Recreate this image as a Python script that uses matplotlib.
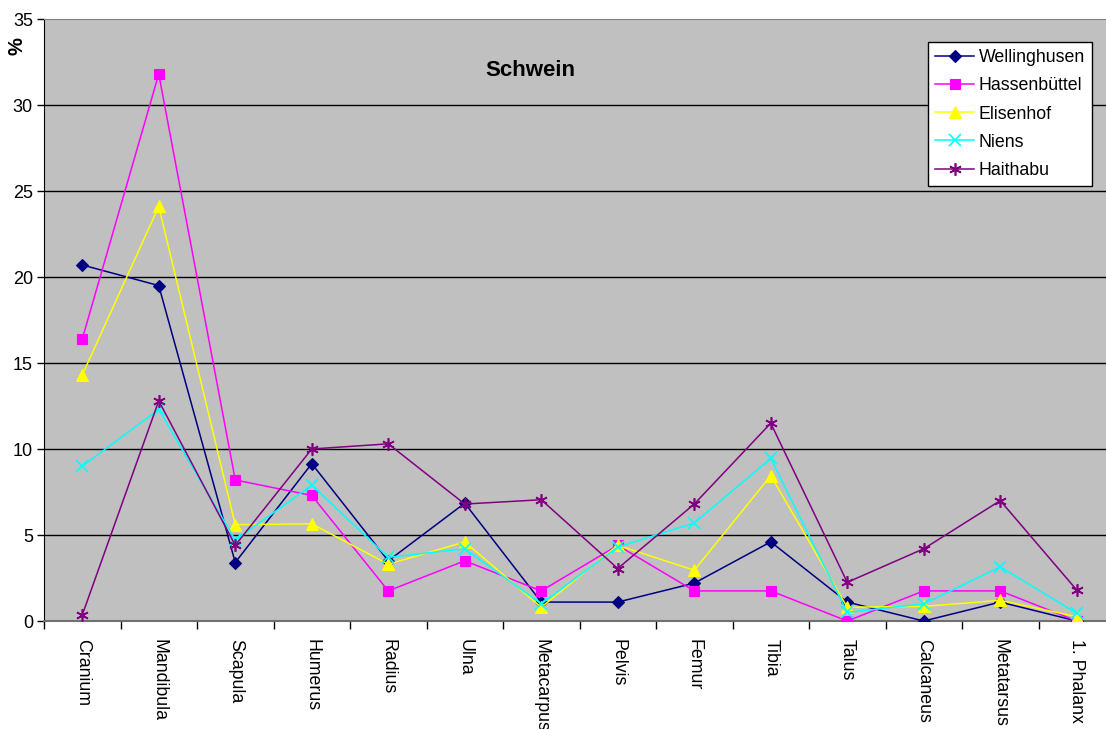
import matplotlib
matplotlib.use("Agg")
import matplotlib.pyplot as plt
import numpy as np

plt.rcParams['font.family'] = ['Liberation Sans', 'DejaVu Sans']

categories = ["Cranium", "Mandibula", "Scapula", "Humerus", "Radius", "Ulna",
              "Metacarpus", "Pelvis", "Femur", "Tibia", "Talus", "Calcaneus",
              "Metatarsus", "1. Phalanx"]
wellinghusen = [20.7, 19.5, 3.4, 9.15, 3.5, 6.85, 1.1, 1.1, 2.2, 4.6, 1.1, 0.0, 1.1, 0.0]
hassenbuettel = [16.4, 31.8, 8.2, 7.3, 1.75, 3.5, 1.75, 4.4, 1.75, 1.75, 0.0, 1.75, 1.75, 0.0]
elisenhof = [14.3, 24.1, 5.6, 5.65, 3.3, 4.6, 0.8, 4.4, 2.95, 8.45, 0.8, 0.85, 1.2, 0.25]
niens = [9.0, 12.3, 4.7, 7.9, 3.7, 4.2, 1.0, 4.3, 5.7, 9.45, 0.5, 1.0, 3.15, 0.45]
haithabu = [0.35, 12.8, 4.4, 10.0, 10.3, 6.8, 7.05, 3.05, 6.8, 11.5, 2.25, 4.2, 7.0, 1.8]
yticks = [0, 5, 10, 15, 20, 25, 30, 35]

fig = plt.figure(figsize=(11.06, 7.29), dpi=100)
ax = fig.add_axes([44/1106, 1-621/729, (1115-44)/1106, (621-19)/729])
ax.set_facecolor('#C0C0C0')

x = np.arange(len(categories))
series = [
    ("Wellinghusen", wellinghusen, '#000080', 'D', 6),
    ("Hassenbüttel", hassenbuettel, '#FF00FF', 's', 7),
    ("Elisenhof", elisenhof, '#FFFF00', '^', 8),
    ("Niens", niens, '#00FFFF', 'x', 8),
    ("Haithabu", haithabu, '#800080', (6, 2, 0), 9),
]
for name, vals, col, mk, ms in series:
    ax.plot(x, vals, color=col, lw=1.1, marker=mk, markersize=ms,
            markeredgewidth=1.2 if mk in ('x',) or isinstance(mk, tuple) else 0.8,
            markerfacecolor=col, markeredgecolor=col, label=name, zorder=3)

ax.set_xlim(-0.5, len(categories) - 0.5)
ax.set_ylim(0, 35)
ax.set_yticks(yticks)
ax.set_yticklabels([str(v) for v in yticks], fontsize=13)
for v in yticks[1:-1]:
    ax.axhline(v, color='black', lw=1.0, zorder=1)

ax.set_xticks(x)
ax.set_xticklabels(categories, rotation=-90, fontsize=12.8, va='top', ha='center')
ax.set_xticks(np.arange(-0.5, len(categories)), minor=True)
ax.tick_params(axis='x', which='major', length=0, pad=13)
ax.tick_params(axis='x', which='minor', length=6, width=1, color='black', direction='out')
ax.tick_params(axis='y', length=5, width=1, direction='out', pad=3)

ax.spines['left'].set_color('black')
ax.spines['bottom'].set_color('#707070')
ax.spines['bottom'].set_linewidth(1.5)
ax.spines['top'].set_color('#808080')
ax.spines['right'].set_visible(False)

ax.text(530/1106, 1-71/729, "Schwein", transform=fig.transFigure, fontsize=16,
        fontweight='bold', ha='center', va='center')
fig.text(17/1106, 1-46/729, "%", rotation=90, fontsize=14.5, fontweight='bold',
         ha='center', va='center')

leg = ax.legend(loc='upper left', bbox_to_anchor=(928/1106, 1-42/729),
                bbox_transform=fig.transFigure, fontsize=12.8, frameon=True,
                fancybox=False, edgecolor='black', facecolor='white', framealpha=1,
                handlelength=2.2, handletextpad=0.25, labelspacing=0.63,
                borderpad=0.4, borderaxespad=0)
leg.get_frame().set_linewidth(1.0)

fig.savefig("out.png", dpi=100, facecolor='white')
